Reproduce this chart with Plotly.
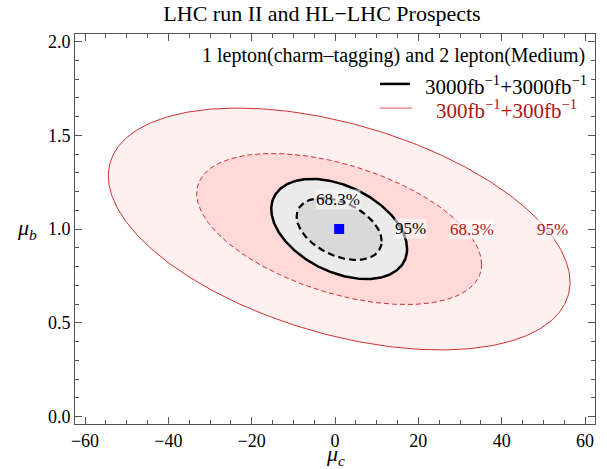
import numpy as np
import plotly.graph_objects as go

# ---- data ----
best_fit_c = [1.0]
best_fit_b = [1.0]

cl_names = ["68.3%", "95%"]
# HL-LHC (3000 fb^-1 + 3000 fb^-1): contour half-extent in mu_c, in mu_b, and correlation
hl_half_c = [10.2, 16.3]
hl_half_b = [0.165, 0.267]
hl_corr = [-0.40, -0.40]
# Run II (300 fb^-1 + 300 fb^-1)
r2_half_c = [34.2, 55.4]
r2_half_b = [0.403, 0.645]
r2_corr = [-0.47, -0.44]

# label positions (on the contours)
hl_label_c = [0.7, 18.0]
hl_label_b = [1.155, 1.005]
r2_label_c = [32.9, 52.1]
r2_label_b = [1.0, 1.0]

x_ticks = [-60, -40, -20, 0, 20, 40, 60]
y_ticks = [0.0, 0.5, 1.0, 1.5, 2.0]

SERIF = "Liberation Serif"
RED_LINE = "#cc3333"
RED_TEXT = "#b01515"
FRAME = "#555555"


def contour(a, b, r, cx, cy, n=400):
    t = np.linspace(0, 2 * np.pi, n)
    x = cx + a * np.cos(t)
    y = cy + b * (r * np.cos(t) + np.sqrt(1 - r * r) * np.sin(t))
    return x, y


fig = go.Figure()

styles = [
    # (half_c, half_b, corr, index, fill, line color, width, dash)
    (r2_half_c, r2_half_b, r2_corr, 1, "#fff0f0", RED_LINE, 1, "solid"),
    (r2_half_c, r2_half_b, r2_corr, 0, "#ffd8d8", RED_LINE, 1, "5px,3px"),
    (hl_half_c, hl_half_b, hl_corr, 1, "#ebebeb", "black", 2.5, "solid"),
    (hl_half_c, hl_half_b, hl_corr, 0, "#d9d9d9", "black", 2.2, "7px,4px"),
]
for hc, hb, rc, i, fillc, lc, lw, dash in styles:
    x, y = contour(hc[i], hb[i], rc[i], best_fit_c[0], best_fit_b[0])
    fig.add_trace(go.Scatter(x=x, y=y, mode="lines", fill="toself", fillcolor=fillc,
                             line=dict(color=lc, width=lw, dash=dash),
                             hoverinfo="skip", showlegend=False))

fig.add_trace(go.Scatter(x=best_fit_c, y=best_fit_b, mode="markers",
                         marker=dict(symbol="square", size=10, color="#0000ff", line=dict(width=0)),
                         showlegend=False))

# contour labels
for i, name in enumerate(cl_names):
    fig.add_annotation(x=hl_label_c[i], y=hl_label_b[i], text=name, showarrow=False,
                       xanchor="center", yanchor="middle",
                       font=dict(family=SERIF, size=17, color="black"),
                       bgcolor="rgba(255,255,255,0.55)", borderpad=0)
    fig.add_annotation(x=r2_label_c[i], y=r2_label_b[i], text=name, showarrow=False,
                       xanchor="center", yanchor="middle",
                       font=dict(family=SERIF, size=17, color=RED_TEXT),
                       bgcolor="rgba(255,255,255,0.55)", borderpad=0)

# subtitle and legend
fig.add_annotation(xref="paper", yref="paper", x=0.985, y=0.946, xanchor="right", yanchor="middle",
                   text="1 lepton(charm\u2013tagging) and 2 lepton(Medium)", showarrow=False,
                   font=dict(family=SERIF, size=20, color="black"))
fig.add_shape(type="line", xref="paper", yref="paper", x0=0.5865, x1=0.644, y0=0.872, y1=0.872,
              line=dict(color="black", width=2.5))
fig.add_annotation(xref="paper", yref="paper", x=0.669, y=0.868, xanchor="left", yanchor="middle",
                   text="3000fb<sup>\u22121</sup>+3000fb<sup>\u22121</sup>", showarrow=False,
                   font=dict(family=SERIF, size=21, color="black"))
fig.add_shape(type="line", xref="paper", yref="paper", x0=0.5865, x1=0.648, y0=0.810, y1=0.810,
              line=dict(color="#ee5555", width=1))
fig.add_annotation(xref="paper", yref="paper", x=0.690, y=0.806, xanchor="left", yanchor="middle",
                   text="300fb<sup>\u22121</sup>+300fb<sup>\u22121</sup>", showarrow=False,
                   font=dict(family=SERIF, size=21, color=RED_TEXT))

# axis labels
fig.add_annotation(xref="paper", yref="paper", x=0.5, y=-0.08, xanchor="center", yanchor="middle",
                   text="<i>\u03bc<sub>c</sub></i>", showarrow=False,
                   font=dict(family=SERIF, size=22, color="black"))
fig.add_annotation(xref="paper", yref="y", x=-0.092, y=1.0, xanchor="center", yanchor="middle",
                   text="<i>\u03bc<sub>b</sub></i>", showarrow=False,
                   font=dict(family=SERIF, size=22, color="black"))

axis_common = dict(showgrid=False, zeroline=False, showline=True, linecolor=FRAME,
                   linewidth=1, mirror="ticks", ticks="inside", ticklen=7, tickcolor=FRAME,
                   tickfont=dict(family=SERIF, size=18, color="black"))

fig.update_xaxes(range=[-62.4, 62.4], tickvals=x_ticks,
                 minor=dict(dtick=5, ticks="inside", ticklen=4, tickcolor=FRAME),
                 **axis_common)
fig.update_yaxes(range=[-0.04, 2.04], tickvals=y_ticks, tickformat=".1f",
                 minor=dict(dtick=0.1, ticks="inside", ticklen=4, tickcolor=FRAME),
                 **axis_common)

fig.update_layout(
    width=607, height=469,
    margin=dict(l=75, r=12, t=34, b=45),
    plot_bgcolor="white", paper_bgcolor="white",
    title=dict(text="LHC run II and HL\u2212LHC Prospects", x=0.475, xref="paper", xanchor="center",
               y=0.972, yref="container", yanchor="middle",
               font=dict(family=SERIF, size=22, color="black")),
    showlegend=False,
)

fig.write_html("out.html")
